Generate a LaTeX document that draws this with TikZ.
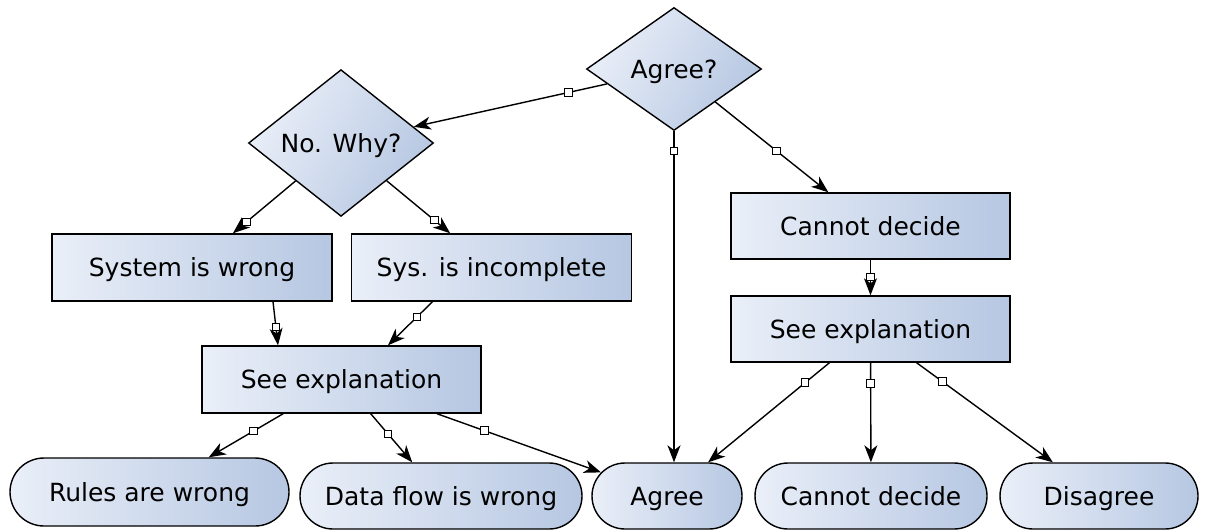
\documentclass[tikz,border=0pt]{standalone}
\usepackage{fontspec}
\setmainfont{DejaVu Sans}
\usepackage{xcolor}
\usepackage{tikz}
\usetikzlibrary{shapes.geometric, shapes.misc, arrows.meta, calc}

\definecolor{nodeLight}{RGB}{234,239,248}
\definecolor{nodeDark}{RGB}{182,199,226}

\tikzset{
    base/.style={draw=black, line width=1.4pt, inner sep=0pt, text height=22pt, text depth=4pt, top color=nodeLight, bottom color=nodeDark, shading angle=90, font=\fontsize{25}{30}\selectfont},
    question/.style={base, diamond, shading angle=60},
    task/.style={base, rectangle, minimum width=279pt, minimum height=67pt},
    outcome/.style={base, rounded rectangle, minimum height=66pt},
    port/.style={draw=black, fill=white, line width=1pt, rectangle, minimum size=7.5pt, inner sep=0pt},
    flow/.style={draw=black, line width=1.4pt, -{Stealth[length=17pt, width=13pt, inset=5pt]}},
}

\begin{document}
\begin{tikzpicture}[x=1pt, y=-1pt]
    \useasboundingbox (0,0) rectangle (1206,531);

    % Decisions
    \node[question, minimum width=175pt, minimum height=123pt] (q1) at (674,69) {Agree?};
    \node[question, minimum width=185pt, minimum height=124pt] (q2) at (341,143) {No. Why?};

    % Middle boxes
    \node[task, minimum width=280pt] (sysw) at (192,267.5) {System is wrong};
    \node[task, minimum width=280pt] (sysi) at (491.5,267.5) {Sys. is incomplete};
    \node[task] (seeL) at (341.5,379.5) {See explanation};
    \node[task, minimum height=66pt] (cand) at (870.5,226) {Cannot decide};
    \node[task, minimum height=66pt] (seeR) at (870.5,329) {See explanation};

    % Outcomes
    \node[outcome, minimum width=279pt, minimum height=68pt] (rules) at (149.5,492) {Rules are wrong};
    \node[outcome, minimum width=282pt] (dflow) at (441,496) {Data flow is wrong};
    \node[outcome, minimum width=150pt] (agree) at (667,496) {Agree};
    \node[outcome, minimum width=232pt] (cndc) at (871,496) {Cannot decide};
    \node[outcome, minimum width=198pt] (disag) at (1099,496) {Disagree};

    % Connectors from Agree?
    \draw[flow] (q1) -- node[port, pos=0.2] (m1) {} (q2);
    \draw[flow] (q1.south) -- node[port, pos=0.06] (m2) {} (q1.south |- agree.north);
    \draw[flow] (q1) -- node[port, pos=0.54] (m3) {} (cand);

    % Connectors from No. Why?
    \draw[flow] (q2) -- node[port, pos=0.78] (m4) {} (sysw);
    \draw[flow] (q2) -- node[port, pos=0.75] (m5) {} (sysi);
    \draw[flow] ($(sysw.south)+(81,0)$) -- node[port, pos=0.58] (m6) {} ($(seeL.north)+(-63.5,0)$);
    \draw[flow] ($(sysi.south)+(-59,0)$) -- node[port, pos=0.35] (m7) {} ($(seeL.north)+(46.5,0)$);

    % Left explanation
    \draw[flow] (seeL) -- node[port, pos=0.4] (m8) {} (rules);
    \draw[flow] (seeL) -- node[port, pos=0.42] (m9) {} (dflow);
    \draw[flow] (seeL) -- node[port, pos=0.29] (m10) {} (agree);

    % Right explanation
    \draw[flow] (cand) -- node[port, pos=0.49] (m11) {} (seeR);
    \draw[flow] (seeR) -- node[port, pos=0.2] (m12) {} (agree);
    \draw[flow] (seeR) -- node[port, pos=0.21] (m13) {} (cndc);
    \draw[flow] (seeR) -- node[port, pos=0.19] (m14) {} (disag);
\end{tikzpicture}
\end{document}
